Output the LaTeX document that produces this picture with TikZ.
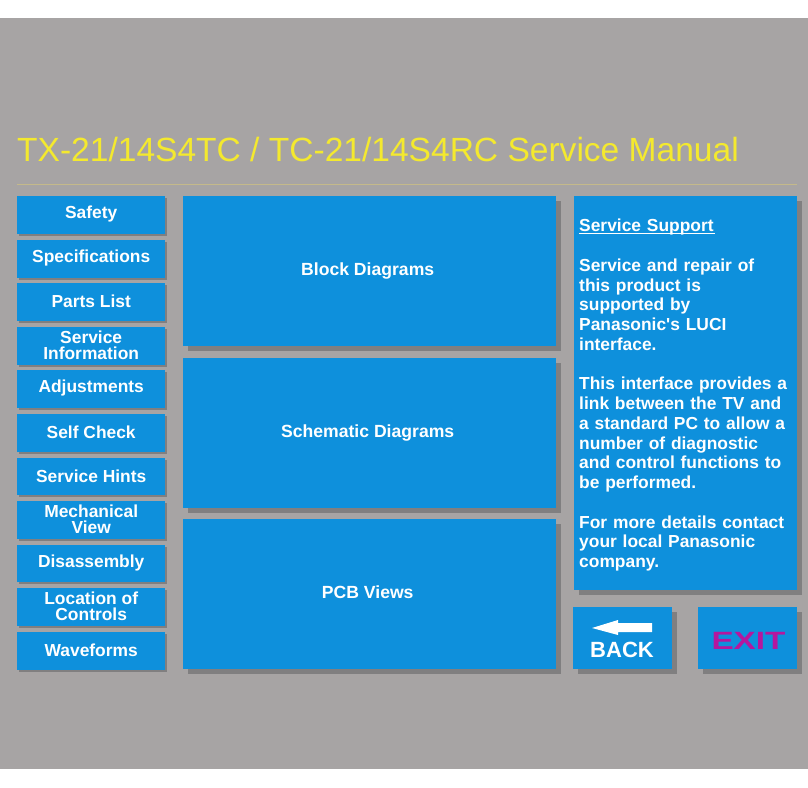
\documentclass[tikz,border=0pt]{standalone}
\usepackage{fontspec}
\setmainfont{Liberation Sans}[Ligatures=TeXOff]
\definecolor{pagegrey}{HTML}{A7A4A4}
\definecolor{btnblue}{HTML}{0E90DC}
\definecolor{shadegrey}{HTML}{807F80}
\definecolor{titleyellow}{HTML}{F4E92E}
\definecolor{rulegold}{HTML}{C4B98A}
\definecolor{exitpink}{HTML}{B5179E}
\tikzset{
  btn/.style={fill=btnblue, inner sep=0pt, anchor=north west},
  btnlabel/.style={inner sep=0pt, align=center, text=white,
    font=\bfseries\fontsize{17.4}{16}\selectfont},
  sidebtn/.style={btn, minimum width=148pt, minimum height=37.5pt},
  bigbtn/.style={btn, minimum width=373pt, minimum height=150pt},
  navbtn/.style={btn, minimum width=99pt, minimum height=62pt}
}
\begin{document}
\begin{tikzpicture}[x=1pt, y=-1pt]
  \useasboundingbox (0,0) rectangle (808,787);

  % Background
  \fill[pagegrey] (0,18) rectangle (808,769);

  % Title
  \node[anchor=base west, inner sep=0pt, text=titleyellow, font=\fontsize{33.55}{36}\selectfont]
    (title) at (17,161.5) {TX-21/14S4TC / TC-21/14S4RC Service Manual};
  \draw[rulegold] (17,184) -- (797,184);

  % Left column
  \foreach \name/\ytop/\txt in {
      safety/196/Safety, specs/240/Specifications, parts/283/Parts List,
      service/327/{Service\\Information}, adjust/370/Adjustments,
      selfcheck/414/Self Check, hints/457.5/Service Hints,
      mech/501/{Mechanical\\View}, disasm/544.5/Disassembly,
      location/588/{Location of\\Controls}, wave/632/Waveforms} {
    \fill[shadegrey] (19,\ytop+2) rectangle ++(148,37.5);
    \node[sidebtn, label={[btnlabel, yshift=0.5pt]center:\txt}] (\name) at (17,\ytop) {};
  }

  % Middle column
  \foreach \name/\ytop/\up/\txt in {
      block/196/0/Block Diagrams, schem/358/0/Schematic Diagrams, pcb/519/2/PCB Views} {
    \fill[shadegrey] (188,\ytop+5) rectangle ++(373,150);
    \node[bigbtn, label={[btnlabel, xshift=-2pt, yshift=\up pt, font=\bfseries\fontsize{17.6}{16}\selectfont]center:\txt}]
      (\name) at (183,\ytop) {};
  }

  % Right panel
  \fill[shadegrey] (579,201) rectangle (802,595);
  \fill[btnblue] (574,196) rectangle (797,590);
  \node[anchor=north west, inner sep=0pt, text=white, align=left, text width=215pt,
    font=\bfseries\fontsize{17.4}{19.75}\selectfont] (support) at (579,219)
    {\rlap{\rule[-2.2pt]{136pt}{0.9pt}}Service Support\\[19.75pt]
     Service and repair of\\this product is\\supported by\\Panasonic's LUCI\\interface.\\[19.75pt]
     This interface provides a\\link between the TV and\\a standard PC to allow a\\number of diagnostic\\and control functions to\\be performed.\\[19.75pt]
     For more details contact\\your local Panasonic\\company.};

  % Back and exit
  \fill[shadegrey] (578,612) rectangle ++(99,62);
  \node[navbtn] (back) at (573,607) {};
  \fill[white] (592,628) -- (618,620) -- (618,623) -- (652,623) -- (652,632) -- (618,632) -- (618,635) -- cycle;
  \node[anchor=base, inner sep=0pt, text=white, font=\bfseries\fontsize{22}{24}\selectfont]
    (backlabel) at (622,657) {BACK};
  \fill[shadegrey] (703,612) rectangle ++(99,62);
  \node[navbtn] (exit) at (698,607) {};
  \node[anchor=base, inner sep=0pt, text=exitpink, font=\bfseries\fontsize{25}{24}\selectfont]
    (exitlabel) at (748.5,649) {\addfontfeature{FakeStretch=1.33}EXIT};
\end{tikzpicture}
\end{document}
